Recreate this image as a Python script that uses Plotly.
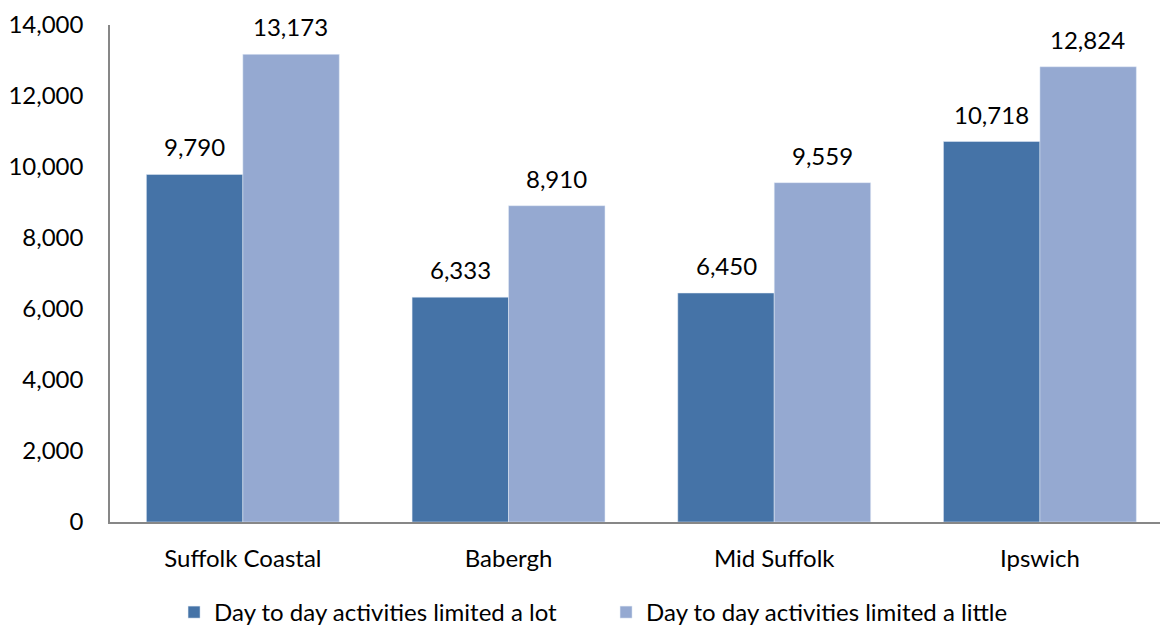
import plotly.graph_objects as go

districts = ["Suffolk Coastal", "Babergh", "Mid Suffolk", "Ipswich"]
limited_a_lot = [9790, 6333, 6450, 10718]
limited_a_little = [13173, 8910, 9559, 12824]
y_ticks = [0, 2000, 4000, 6000, 8000, 10000, 12000, 14000]

font = dict(family="Lato, Open Sans, sans-serif", size=24, color="#000000")

series = [
    ("Day to day activities limited a lot", limited_a_lot, "#4573A7", -48),
    ("Day to day activities limited a little", limited_a_little, "#95A9D1", 48),
]

fig = go.Figure()
for name, values, color, shift in series:
    fig.add_trace(go.Bar(
        name=name,
        x=districts,
        y=values,
        marker=dict(color=color),
    ))
    # value labels sit a little higher above the bars than plotly's "outside" text
    for district, v in zip(districts, values):
        fig.add_annotation(
            x=district,
            y=v,
            text=f"{v:,}",
            showarrow=False,
            xshift=shift,
            yshift=11,
            yanchor="bottom",
            font=font,
        )

fig.update_layout(
    width=1162,
    height=625,
    margin=dict(l=110, r=2, t=25, b=103),
    barmode="group",
    bargap=0.274,
    bargroupgap=0,
    plot_bgcolor="white",
    paper_bgcolor="white",
    font=font,
    legend=dict(
        orientation="h",
        x=0.061,
        xanchor="left",
        yref="container",
        y=0.02,
        yanchor="middle",
        font=font,
        entrywidth=387,
        bgcolor="rgba(0,0,0,0)",
        traceorder="normal",
    ),
)
fig.update_xaxes(
    range=[-0.5, 3.452],
    showline=True,
    linecolor="#878787",
    linewidth=1.5,
    ticks="",
    ticklabelstandoff=14,
    tickfont=font,
    showgrid=False,
)
fig.update_yaxes(
    range=[0, 14000],
    tickvals=y_ticks,
    tickformat=",",
    showline=True,
    linecolor="#878787",
    linewidth=1.5,
    ticks="",
    ticklabelstandoff=20,
    showgrid=False,
    zeroline=False,
    tickfont=font,
)

# drop the default body margin so the figure fills the window exactly
fig.write_html(
    "out.html",
    config={"displayModeBar": False},
    post_script="document.body.style.margin='0';document.body.style.overflow='hidden';",
)
